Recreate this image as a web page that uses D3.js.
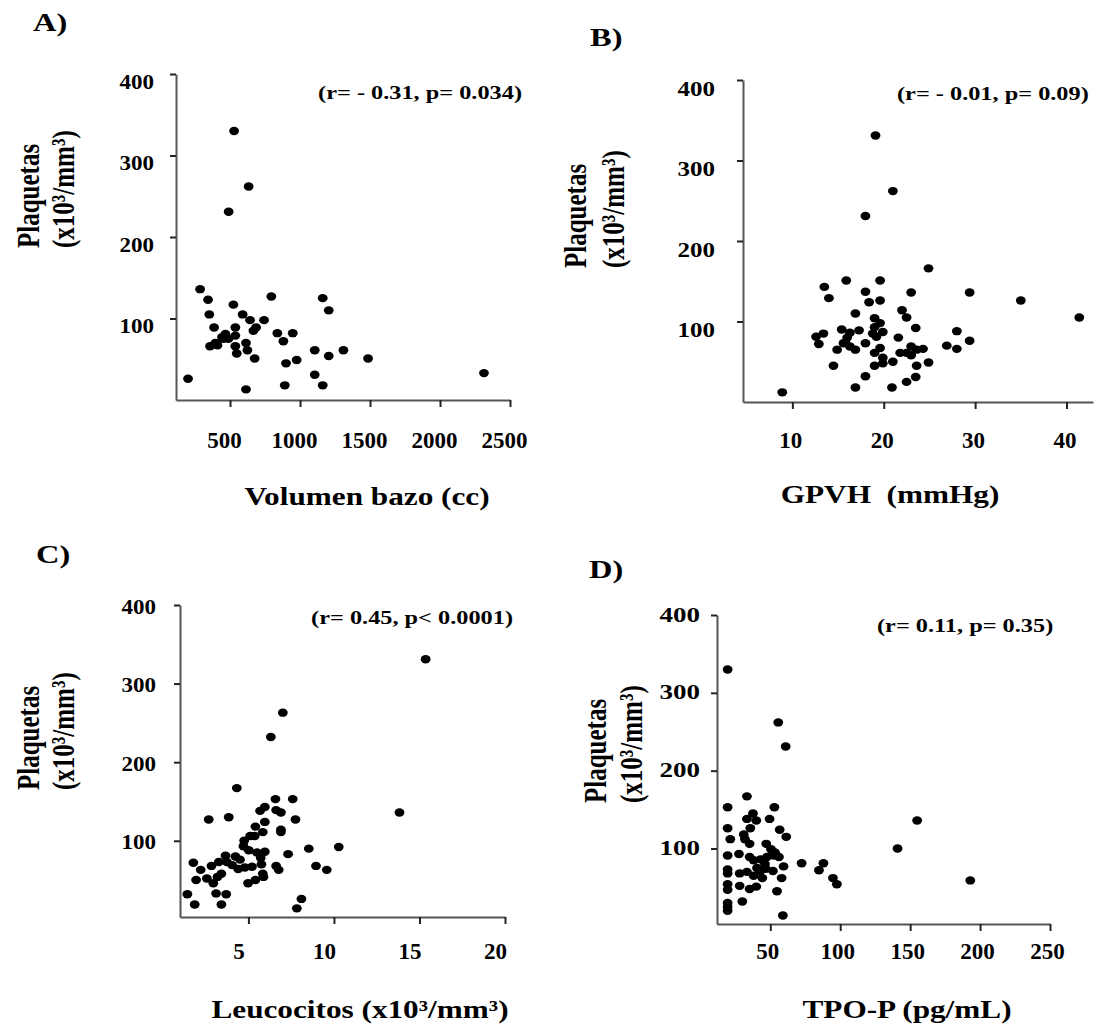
<!DOCTYPE html>
<html>
<head>
<meta charset="utf-8">
<script src="https://cdn.jsdelivr.net/npm/d3@7/dist/d3.min.js"></script>
<style>
  body { margin: 0; background: #fff; }
  svg text { font-family: "Liberation Serif", "Times New Roman", serif; font-weight: bold; fill: #000; white-space: pre; }
</style>
</head>
<body>
<svg id="chart" width="1100" height="1027"></svg>
<script>
// A) Volumen bazo (cc) vs plaquetas
const bazoX = [529, 633, 490, 286, 343, 795, 1162, 1205, 524, 352, 590, 643, 743, 386, 538, 686,
    667, 467, 538, 838, 948, 443, 488, 881, 395, 357, 410, 614, 538, 624, 548, 676, 1105, 1205,
    1310, 1486, 900, 976, 1105, 891, 1162, 614, 200, 2314, 405, 452];
const bazoY = [330, 262, 231, 136, 123, 127, 125, 110, 117, 105, 105, 98, 98, 89, 89, 89,
    85, 81, 79, 82, 82, 77, 75, 72, 70, 66, 67, 70, 66, 61, 57, 51, 61, 54,
    61, 51, 45, 49, 31, 18, 18, 13, 26, 33, 68, 75];

// B) GPVH (mmHg) vs plaquetas
const gpvhX = [8.9, 24.9, 15.9, 19.6, 13.5, 14.0, 18.0, 18.4, 19.6, 23.0, 29.4, 35.0, 41.4, 16.9, 22.0,
    22.5, 19.0, 19.6, 19.0, 19.9, 18.8, 19.2, 23.5, 28.0, 13.4, 12.6, 12.9, 15.4, 17.3, 16.0, 18.0,
    15.6, 14.9, 16.9, 16.3, 21.6, 29.4, 26.9, 28.0, 23.0, 24.3, 23.6, 19.6, 19.0, 21.8, 23.0, 19.9,
    21.0, 19.9, 19.0, 14.5, 23.6, 24.9, 18.0, 23.5, 22.5, 16.9, 20.9, 19.1, 21.0, 18.0, 16.3, 15.8, 22.5];
const gpvhY = [12, 166, 151, 151, 143, 129, 137, 124, 126, 136, 136, 126, 105, 110, 114,
    105, 104, 98, 93, 87, 85, 81, 92, 88, 85, 81, 72, 90, 89, 80, 73,
    73, 65, 65, 69, 80, 76, 70, 66, 69, 66, 65, 67, 61, 61, 58, 55,
    50, 48, 45, 45, 45, 49, 32, 31, 25, 18, 18, 331, 262, 231, 86, 74, 61];

// C) Leucocitos (x10³/mm³) vs plaquetas
const leucoX = [15.36, 7.01, 6.31, 13.83, 4.32, 2.68, 3.85, 6.58, 7.59, 5.96, 5.68, 6.62, 6.9, 7.75,
    5.96, 5.41, 6.9, 6.9, 5.84, 5.1, 5.37, 4.75, 4.71, 5.02, 5.49, 5.96, 5.72, 8.53, 10.28, 7.32,
    1.78, 2.21, 1.94, 2.84, 3.27, 3.66, 3.74, 4.24, 4.51, 4.4, 4.05, 4.79, 5.21, 5.76, 6.62, 6.77,
    8.95, 9.58, 2.57, 2.95, 3.42, 3.19, 4.98, 5.41, 5.88, 5.84, 1.43, 3.11, 3.7, 1.86, 3.42, 8.1, 7.83];
const leucoY = [331, 263, 232, 136, 167, 127, 130, 153, 153, 143, 138, 139, 136, 127,
    124, 118, 114, 111, 111, 106, 106, 100, 93, 88, 85, 86, 78, 90, 92, 83,
    72, 63, 50, 68, 73, 81, 73, 80, 76, 64, 69, 66, 67, 70, 68, 63,
    68, 63, 52, 46, 58, 54, 46, 50, 54, 58, 32, 33, 32, 19, 19, 26, 14];

// D) TPO-P (pg/mL) vs plaquetas
const tpoX = [19.5, 55.7, 61, 155, 141, 193, 33.3, 19.5, 52.9, 33.3, 37.6, 40, 49.5, 19.5, 35.7,
    56.7, 61.4, 21.4, 31, 31.9, 35.2, 47.1, 27.6, 19.5, 72.4, 88, 84.8, 94.8, 97.6, 35.2, 38.1,
    50.5, 53.4, 56.2, 52.4, 47.6, 59.5, 19.5, 19.5, 28.1, 33.3, 40.5, 42.9, 46.7, 51.9, 38.1,
    44.3, 58.1, 19.5, 19.5, 28.1, 35.2, 40, 54.8, 19.5, 19.5, 19.5, 30, 59, 42.9, 46.2];
const tpoY = [330, 262, 231, 136, 100, 59, 167, 153, 153, 138, 145, 136, 138, 126, 126,
    124, 115, 112, 118, 112, 106, 106, 93, 91, 81, 81, 72, 62, 54, 89, 85,
    99, 95, 89, 91, 89, 77, 73, 68, 68, 70, 75, 71, 74, 71, 65,
    62, 62, 54, 47, 52, 48, 51, 45, 30, 25, 20, 32, 14, 86, 80];

// tick labels
const plaqTicks = [100, 200, 300, 400];
const bazoTicks = [500, 1000, 1500, 2000, 2500];
const gpvhTicks = [10, 20, 30, 40];
const leucoTicks = [5, 10, 15, 20];
const tpoTicks = [50, 100, 150, 200, 250];

// panel layout
const panels = [
    { letter: "A)", xs: bazoX, ys: bazoY, ticks: bazoTicks,
      xlabel: "Volumen bazo (cc)", stat: "(r= - 0.31, p= 0.034)",
      xDomain: [114, 2500], yMin: 0, left: 176, right: 510, top: 74, bottom: 400,
      letterPos: [33, 31], statPos: [522, 99, "end"], xlabelPos: [367, 505],
      ylabX: [39, 74], ylabY: 248, yGap: 22, yDy: 14, ySx: 1.15, xDy: 48, xDx: -6 },
    { letter: "B)", xs: gpvhX, ys: gpvhY, ticks: gpvhTicks,
      xlabel: "GPVH  (mmHg)", stat: "(r= - 0.01, p= 0.09)",
      xDomain: [4.6, 42.9], yMin: 0, left: 743, right: 1093, top: 80, bottom: 402,
      letterPos: [590, 46], statPos: [897, 100, "start"], xlabelPos: [890, 503],
      ylabX: [586, 624], ylabY: 268, yGap: 28, yDy: 15, ySx: 1.25, xDy: 46, xDx: -2 },
    { letter: "C)", xs: leucoX, ys: leucoY, ticks: leucoTicks,
      xlabel: "Leucocitos (x10³/mm³)", stat: "(r= 0.45, p< 0.0001)",
      xDomain: [1, 20], yMin: 3, left: 180, right: 505, top: 605, bottom: 917,
      letterPos: [36, 563], statPos: [513, 624, "end"], xlabelPos: [360, 1018],
      ylabX: [39, 74], ylabY: 790, yGap: 24, yDy: 8, ySx: 1.15, xDy: 42, xDx: -10 },
    { letter: "D)", xs: tpoX, ys: tpoY, ticks: tpoTicks,
      xlabel: "TPO-P (pg/mL)", stat: "(r= 0.11, p= 0.35)",
      xDomain: [11.9, 250], yMin: 3, left: 717, right: 1050, top: 615, bottom: 924,
      letterPos: [589, 578], statPos: [877, 632, "start"], xlabelPos: [907, 1018],
      ylabX: [606, 642], ylabY: 803, yGap: 17, yDy: 6, ySx: 1.35, xDy: 35, xDx: -3 }
];

const svg = d3.select("#chart");

// stretched text helper (the figure is wider than it is tall)
function label(g, txt, x, y, size, sx, anchor) {
    return g.append("text")
        .attr("transform", "translate(" + x + "," + y + ") scale(" + sx + ",1)")
        .attr("text-anchor", anchor || "middle")
        .style("font-size", size + "px")
        .text(txt);
}

panels.forEach(function(p) {
    const g = svg.append("g");

    const x = d3.scaleLinear().domain(p.xDomain).range([p.left, p.right]);
    const y = d3.scaleLinear().domain([p.yMin, 400]).range([p.bottom, p.top]);

    // y axis
    const yAxis = g.append("g")
        .attr("transform", "translate(" + p.left + ",0)")
        .call(d3.axisLeft(y).tickValues(plaqTicks).tickFormat(d3.format("d"))
            .tickSize(6).tickSizeOuter(0));
    yAxis.selectAll("text")
        .attr("x", null).attr("dy", null)
        .attr("transform", "translate(" + (-p.yGap) + "," + p.yDy + ") scale(" + p.ySx + ",1)")
        .style("font-size", "20px");

    // x axis
    const xAxis = g.append("g")
        .attr("transform", "translate(0," + p.bottom + ")")
        .call(d3.axisBottom(x).tickValues(p.ticks).tickFormat(d3.format("d"))
            .tickSize(7).tickSizeOuter(0));
    xAxis.selectAll("text")
        .attr("y", p.xDy).attr("dy", null).attr("x", p.xDx)
        .style("font-size", "23px");

    g.selectAll(".domain").attr("stroke", "#555").attr("stroke-width", 2);
    g.selectAll(".tick line").attr("stroke", "#222").attr("stroke-width", 2);
    g.selectAll(".tick text").attr("fill", "#000")
        .style("font-family", "'Liberation Serif', serif").style("font-weight", "bold");

    // points
    g.append("g").selectAll("ellipse")
        .data(p.xs.map(function(v, i) { return [v, p.ys[i]]; }))
        .join("ellipse")
        .attr("cx", function(d) { return x(d[0]); })
        .attr("cy", function(d) { return y(d[1]); })
        .attr("rx", 4.9)
        .attr("ry", 4.2)
        .attr("fill", "#000");

    // texts
    label(g, p.letter, p.letterPos[0], p.letterPos[1], 26, 1.25, "start");
    label(g, p.stat, p.statPos[0], p.statPos[1], 19, 1.28, p.statPos[2]);
    label(g, p.xlabel, p.xlabelPos[0], p.xlabelPos[1], 25, 1.25, "middle");

    g.append("text")
        .attr("transform", "translate(" + p.ylabX[0] + "," + p.ylabY + ") scale(1.3,1) rotate(-90)")
        .style("font-size", "25px")
        .text("Plaquetas");
    g.append("text")
        .attr("transform", "translate(" + p.ylabX[1] + "," + p.ylabY + ") scale(1.3,1) rotate(-90)")
        .style("font-size", "25px")
        .text("(x10³/mm³)");
});
</script>
</body>
</html>
